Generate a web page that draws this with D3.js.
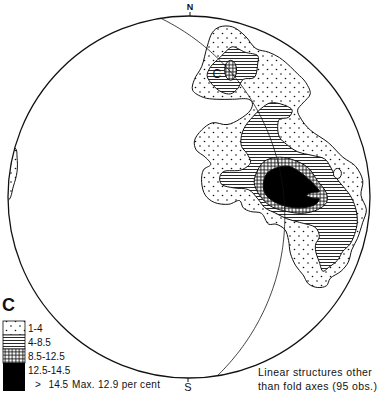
<!DOCTYPE html>
<html>
<head>
<meta charset="utf-8">
<script src="https://cdn.jsdelivr.net/npm/d3@7"></script>
<style>
  body { margin: 0; background: #fff; }
  text { font-family: "Liberation Sans", Arial, sans-serif; fill: #111; }
</style>
</head>
<body>
<svg id="chart" width="379" height="400"></svg>
<script>
// contour outlines, net coordinates (east, north) in percent of net radius
const zone1 = [[64,64],[67,57],[63,52],[60,48],[62,43],[67,37],[77,30],[85,22],[92,17],[96,9],[95,1],[98,-7],[96,-14],[93,-23],[90,-29],[88,-36],[84,-41],[78,-45],[76,-49],[71,-50],[66,-48],[63,-43],[59,-38],[56,-31],[55,-24],[53,-18],[48,-15],[44,-15],[40,-9],[34,-8],[30,-6],[28,-2],[22,-4],[14,-3],[9,1],[7,8],[8,15],[12,18],[9,22],[4,26],[3,31],[7,37],[13,41],[21,40],[28,43],[34,48],[35,52],[33,54],[24,54],[15,54],[8,55],[2,59],[3,65],[7,72],[10,83],[13,91],[17,94],[24,94],[31,89],[37,82],[44,80],[50,77],[56,72],[60,68]];
const zone1Edge = [[-96,27],[-95,22],[-95,14],[-97,6],[-100,-2],[-110,-2],[-110,27]];
const zone2 = [[40,49],[45,52],[52,51],[57,48],[55,44],[50,43],[49,39],[50,33],[54,29],[60,25],[68,23],[75,21],[78,17],[81,11],[85,6],[89,1],[92,-6],[93,-13],[92,-19],[89,-26],[85,-30],[82,-35],[77,-39],[74,-41],[72,-36],[70,-30],[70,-26],[72,-22],[70,-17],[61,-14],[54,-12],[48,-9],[42,-6],[38,-1],[33,4],[25,5],[18,7],[17,11],[19,14],[29,15],[34,19],[32,24],[29,28],[29,34],[31,39],[35,44]];
const zone2Upper = [[24,83],[31,80],[38,78],[38,74],[36,66],[30,65],[27,60],[23,57],[18,58],[13,62],[10,67],[12,72],[17,77],[21,81]];
const zone3 = [[42,20],[50,22],[59,20],[66,16],[71,9],[76,2],[76,-3],[71,-7],[63,-9],[54,-8],[45,-5],[39,1],[36,8],[38,15]];
const zone4 = [[41,7],[43,13],[48,16],[55,17],[61,14],[66,10],[70,6],[72,3],[68,2.5],[65,1],[68,-0.5],[72,-1],[70,-4],[62,-6],[53,-5],[46,-2],[42,2]];
const zone3Small = [23, 70, 3.3, 5.5];   // centre e, n, radius e, n
const emptySpot = [82, 13, 2.2, 2.8];

// plane drawn as great circle
const planeStrike = 351, planeDip = 35;

const legendLabels = ["1-4", "4-8.5", "8.5-12.5", "12.5-14.5", "> 14.5"];
const legendFills = ["url(#dots)", "url(#hlines)", "url(#grid)", "#000", "#000"];

const cx = 189, cy = 197, R = 181;
const svg = d3.select("#chart");

const x = d3.scaleLinear().domain([-100, 100]).range([cx - R, cx + R]);
const y = d3.scaleLinear().domain([-100, 100]).range([cy + R, cy - R]);

const defs = svg.append("defs");
const dots = defs.append("pattern").attr("id", "dots").attr("patternUnits", "userSpaceOnUse")
  .attr("width", 9).attr("height", 9);
dots.append("rect").attr("width", 9).attr("height", 9).attr("fill", "#fff");
dots.append("circle").attr("cx", 2).attr("cy", 2).attr("r", 0.8).attr("fill", "#111");
dots.append("circle").attr("cx", 6.5).attr("cy", 6.5).attr("r", 0.8).attr("fill", "#111");

const hl = defs.append("pattern").attr("id", "hlines").attr("patternUnits", "userSpaceOnUse")
  .attr("width", 6).attr("height", 3);
hl.append("rect").attr("width", 6).attr("height", 3).attr("fill", "#fff");
hl.append("line").attr("x1", 0).attr("x2", 6).attr("y1", 1.5).attr("y2", 1.5)
  .attr("stroke", "#111").attr("stroke-width", 0.9);

const gr = defs.append("pattern").attr("id", "grid").attr("patternUnits", "userSpaceOnUse")
  .attr("width", 3.5).attr("height", 3.5);
gr.append("rect").attr("width", 3.5).attr("height", 3.5).attr("fill", "#fff");
gr.append("line").attr("x1", 0).attr("x2", 3.5).attr("y1", 1.75).attr("y2", 1.75)
  .attr("stroke", "#111").attr("stroke-width", 0.9);
gr.append("line").attr("y1", 0).attr("y2", 3.5).attr("x1", 1.75).attr("x2", 1.75)
  .attr("stroke", "#111").attr("stroke-width", 0.9);

defs.append("clipPath").attr("id", "net").append("circle")
  .attr("cx", cx).attr("cy", cy).attr("r", R);

const outline = d3.line().x(d => x(d[0])).y(d => y(d[1]))
  .curve(d3.curveCatmullRomClosed.alpha(0.5));

const g = svg.append("g").attr("clip-path", "url(#net)");
const zones = [
  [zone1, "url(#dots)"], [zone1Edge, "url(#dots)"],
  [zone2, "url(#hlines)"], [zone2Upper, "url(#hlines)"],
  [zone3, "url(#grid)"], [zone4, "#000"]
];
zones.forEach(([pts, fill]) => {
  g.append("path").attr("d", outline(pts)).attr("fill", fill)
    .attr("stroke", "#111").attr("stroke-width", 1);
});

[[zone3Small, "url(#grid)"], [emptySpot, "#fff"]].forEach(([e, fill]) => {
  g.append("ellipse")
    .attr("cx", x(e[0])).attr("cy", y(e[1]))
    .attr("rx", x(e[2]) - x(0)).attr("ry", y(0) - y(e[3]))
    .attr("fill", fill).attr("stroke", "#111").attr("stroke-width", 1);
});

g.append("text").attr("x", x(13)).attr("y", y(66)).attr("font-size", 12).text("C");

// great circle of the plane, lower hemisphere
const proj = d3.geoStereographic().scale(R).translate([cx, cy])
  .rotate([0, 90]).clipAngle(90).precision(0.1);
const pole = [planeStrike - 90, -(90 - planeDip)];
const ring = d3.geoCircle().center(pole).radius(90).precision(1)().coordinates[0];
svg.append("path")
  .attr("d", d3.geoPath(proj)({ type: "LineString", coordinates: ring }))
  .attr("fill", "none").attr("stroke", "#111").attr("stroke-width", 0.8);

// primitive
svg.append("circle").attr("cx", cx).attr("cy", cy).attr("r", R)
  .attr("fill", "none").attr("stroke", "#111").attr("stroke-width", 1.3);
svg.append("line").attr("x1", x(0) + 1).attr("x2", x(0) + 1)
  .attr("y1", y(100) - 4).attr("y2", y(100)).attr("stroke", "#111");
svg.append("line").attr("x1", x(0) - 1).attr("x2", x(0) - 1)
  .attr("y1", y(-100)).attr("y2", y(-100) + 4).attr("stroke", "#111");
svg.append("text").attr("x", x(0) + 1).attr("y", y(100) - 6).attr("text-anchor", "middle")
  .attr("font-size", 9).attr("font-weight", "bold").text("N");
svg.append("text").attr("x", x(0) - 1).attr("y", y(-100) + 13).attr("text-anchor", "middle")
  .attr("font-size", 11).text("S");

// legend
svg.append("text").attr("x", 2).attr("y", 311).attr("font-size", 18)
  .attr("font-weight", "bold").text("C");
const ly = d3.scaleLinear().domain([0, legendLabels.length]).range([321, 391]);
const leg = svg.append("g");
legendLabels.forEach((lab, i) => {
  leg.append("rect").attr("x", 3).attr("y", ly(i)).attr("width", 22)
    .attr("height", ly(i + 1) - ly(i)).attr("fill", legendFills[i])
    .attr("stroke", i < 3 ? "#111" : "none").attr("stroke-width", 0.8);
  leg.append("text").attr("x", i === 4 ? 35 : 28).attr("y", (ly(i) + ly(i + 1)) / 2 + 3.5)
    .attr("font-size", 10).attr("word-spacing", i === 4 ? 5 : 0).text(lab);
});
leg.append("text").attr("x", 72).attr("y", (ly(4) + ly(5)) / 2 + 3.5)
  .attr("font-size", 10).attr("letter-spacing", 0.3).text("Max. 12.9 per cent");

svg.append("text").attr("x", 258).attr("y", 376).attr("font-size", 10.5)
  .attr("letter-spacing", 0.4).text("Linear structures other");
svg.append("text").attr("x", 258).attr("y", 390).attr("font-size", 10.5)
  .attr("letter-spacing", 0.4).text("than fold axes (95 obs.)");
</script>
</body>
</html>
